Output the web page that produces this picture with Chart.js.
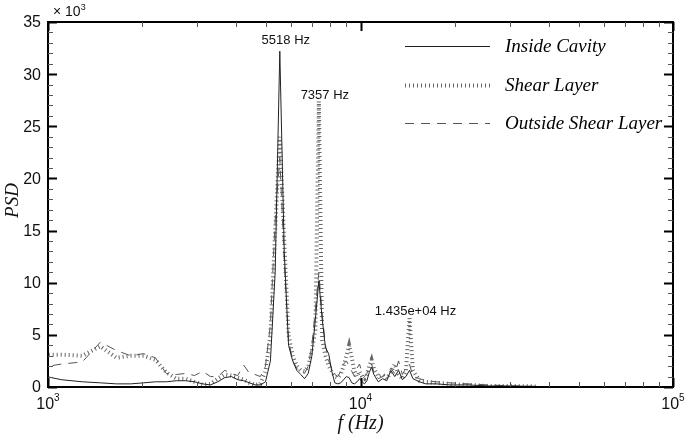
<!DOCTYPE html>
<html>
<head>
<meta charset="utf-8">
<script src="https://cdn.jsdelivr.net/npm/chart.js@4.4.1/dist/chart.umd.min.js"></script>
<style>
  html, body { margin: 0; padding: 0; background: #fff; }
</style>
</head>
<body>
<canvas id="psdChart" width="685" height="438"></canvas>
<script>
// frequencies (Hz), spectral resolution about 184 Hz
const freqs = [920, 1103, 1287, 1471, 1655, 1839, 2023, 2207, 2391, 2575,
  2759, 2942, 3126, 3310, 3494, 3678, 3862, 4046, 4230, 4414,
  4598, 4781, 4965, 5149, 5333, 5518, 5701, 5885, 6069, 6253,
  6437, 6620, 6804, 6988, 7172, 7357, 7540, 7724, 7908, 8092,
  8276, 8460, 8643, 8827, 9011, 9195, 9379, 9563, 9747, 9931,
  10115, 10298, 10482, 10666, 10850, 11034,
  11402, 11770, 12137, 12505, 12873, 13241, 13609, 13976, 14350, 14712,
  15448, 16183, 17471, 19310, 22068, 25746, 30344, 36780];

// PSD values in units of 10^3
const insideCavity = [1.2, 0.7, 0.5, 0.4, 0.3, 0.3, 0.4, 0.5, 0.5, 0.6,
  0.6, 0.5, 0.3, 0.2, 0.5, 0.9, 1.0, 0.7, 0.6, 0.4,
  0.2, 0.2, 0.5, 2.5, 11.0, 32.2, 13.0, 4.0, 2.5, 1.6,
  1.2, 0.8, 1.3, 3.0, 6.5, 10.2, 6.5, 3.8, 3.2, 1.5,
  0.4, 0.3, 0.4, 0.7, 1.0, 0.9, 0.4, 0.3, 0.5, 0.8,
  0.5, 0.3, 0.6, 1.4, 1.9, 1.2,
  0.5, 0.8, 0.6, 1.6, 1.0, 1.6, 0.7, 1.0, 1.6, 0.8,
  0.5, 0.3, 0.3, 0.2, 0.2, 0.1, 0.1, 0.05];

const shearLayer = [3.1, 3.1, 3.0, 3.9, 2.8, 3.0, 3.0, 2.6, 1.4, 0.8,
  0.8, 0.5, 0.2, 0.3, 0.8, 1.2, 1.1, 0.9, 0.7, 0.4,
  0.2, 0.3, 1.5, 5.0, 15.0, 24.0, 14.0, 5.0, 3.0, 2.0,
  1.6, 1.5, 2.0, 3.5, 5.5, 27.4, 4.5, 3.0, 2.0, 1.5,
  1.0, 0.9, 1.2, 2.0, 3.0, 4.0, 2.8, 1.5, 1.0, 1.5,
  1.0, 0.8, 1.2, 2.0, 2.6, 1.8,
  1.0, 1.2, 0.8, 1.4, 2.2, 1.2, 0.8, 1.5, 6.6, 1.6,
  0.6, 0.5, 0.4, 0.3, 0.2, 0.1, 0.1, 0.05];

const outsideShear = [1.8, 2.2, 2.4, 4.3, 3.5, 3.0, 3.2, 2.8, 1.3, 1.2,
  1.3, 1.1, 1.5, 1.0, 1.0, 1.6, 1.3, 1.1, 2.1, 1.3,
  1.2, 1.0, 2.0, 6.0, 16.0, 22.0, 12.0, 4.5, 2.5, 1.8,
  1.4, 1.3, 2.0, 4.0, 7.5, 11.0, 7.0, 4.0, 2.5, 1.8,
  1.2, 1.0, 1.5, 2.2, 2.5, 2.0, 1.5, 1.0, 1.8, 2.2,
  1.3, 1.0, 1.3, 2.0, 2.2, 1.4,
  0.8, 1.0, 1.2, 1.8, 1.3, 2.5, 1.2, 1.8, 2.2, 1.0,
  0.8, 0.6, 0.5, 0.4, 0.3, 0.2, 0.1, 0.05];

const yTicks = [0, 5, 10, 15, 20, 25, 30, 35];
const xDecades = [1000, 10000, 100000];
const xExponents = ['3', '4', '5'];

// peak annotations
const peakFreqs = [5518, 7357, 14350];
const peakLevels = [33.0, 27.7, 7.0];
const peakLabels = ['5518 Hz', '7357 Hz', '1.435e+04 Hz'];

const SANS = '"Liberation Sans", Arial, sans-serif';
const SERIF = '"Liberation Serif", "Times New Roman", serif';

function toPoints(values) {
    return freqs.map((f, i) => ({ x: f, y: values[i] }));
}

const frame = {
    id: 'frame',
    afterDraw(chart) {
        const ctx = chart.ctx;
        const a = chart.chartArea;
        const xs = chart.scales.x;
        const ys = chart.scales.y;
        ctx.save();

        // box
        ctx.strokeStyle = '#000';
        ctx.lineWidth = 2;
        ctx.strokeRect(a.left, a.top, a.right - a.left, a.bottom - a.top);

        // y ticks, inward on both sides
        for (let v = 0; v <= 35; v++) {
            const y = Math.round(ys.getPixelForValue(v)) + 0.5;
            const major = v % 5 === 0;
            const len = major ? 9 : 5;
            ctx.lineWidth = major ? 2 : 1;
            ctx.strokeStyle = major ? '#000' : '#555';
            ctx.beginPath();
            ctx.moveTo(a.left, y); ctx.lineTo(a.left + len, y);
            ctx.moveTo(a.right, y); ctx.lineTo(a.right - len, y);
            ctx.stroke();
        }

        // x ticks (log), inward top and bottom
        const xt = [];
        [1000, 10000].forEach(d => {
            for (let m = 1; m <= 9; m++) xt.push({ f: d * m, major: m === 1 });
        });
        xt.push({ f: 100000, major: true });
        xt.forEach(t => {
            const x = Math.round(xs.getPixelForValue(t.f)) + 0.5;
            const len = t.major ? 9 : 5;
            ctx.lineWidth = t.major ? 2 : 1;
            ctx.strokeStyle = t.major ? '#000' : '#555';
            ctx.beginPath();
            ctx.moveTo(x, a.bottom); ctx.lineTo(x, a.bottom - len);
            ctx.moveTo(x, a.top); ctx.lineTo(x, a.top + len);
            ctx.stroke();
        });

        // y tick labels
        ctx.fillStyle = '#111';
        ctx.font = '16px ' + SANS;
        ctx.textAlign = 'right';
        ctx.textBaseline = 'middle';
        yTicks.forEach(v => {
            ctx.fillText(String(v), a.left - 7, ys.getPixelForValue(v) + 1);
        });

        // x tick labels 10^n
        ctx.textBaseline = 'alphabetic';
        xDecades.forEach((d, i) => {
            const x = xs.getPixelForValue(d);
            ctx.font = '16px ' + SANS;
            const w1 = ctx.measureText('10').width;
            ctx.font = '10px ' + SANS;
            const w2 = ctx.measureText(xExponents[i]).width;
            const x0 = x - (w1 + w2) / 2;
            ctx.textAlign = 'left';
            ctx.font = '16px ' + SANS;
            ctx.fillText('10', x0, a.bottom + 22);
            ctx.font = '10px ' + SANS;
            ctx.fillText(xExponents[i], x0 + w1, a.bottom + 14);
        });

        // multiplier
        ctx.textAlign = 'left';
        ctx.font = '14px ' + SANS;
        ctx.fillText('\u00d7 10', a.left + 5, 16);
        const wm = ctx.measureText('\u00d7 10').width;
        ctx.font = '9px ' + SANS;
        ctx.fillText('3', a.left + 5 + wm, 10);

        // axis titles
        ctx.font = 'italic 20px ' + SERIF;
        ctx.textAlign = 'center';
        ctx.fillText('f (Hz)', (a.left + a.right) / 2, 429);
        ctx.save();
        ctx.translate(13, (a.top + a.bottom) / 2 - 4);
        ctx.rotate(-Math.PI / 2);
        ctx.font = 'italic 19px ' + SERIF;
        ctx.textBaseline = 'middle';
        ctx.fillText('PSD', 0, 0);
        ctx.restore();

        // peak labels
        ctx.font = '13px ' + SANS;
        ctx.textAlign = 'center';
        ctx.textBaseline = 'alphabetic';
        peakFreqs.forEach((f, i) => {
            ctx.fillText(peakLabels[i], xs.getPixelForValue(f) + 6, ys.getPixelForValue(peakLevels[i]) + 1);
        });

        // legend
        const rows = [46, 85, 123];
        chart.data.datasets.forEach((ds, i) => {
            const y = rows[i] + 0.5;
            ctx.save();
            ctx.strokeStyle = ds.borderColor;
            ctx.lineWidth = ds.borderWidth;
            ctx.setLineDash(ds.borderDash || []);
            ctx.beginPath();
            ctx.moveTo(405, y); ctx.lineTo(490, y);
            ctx.stroke();
            ctx.restore();
            ctx.fillStyle = '#000';
            ctx.font = 'italic 19px ' + SERIF;
            ctx.textAlign = 'left';
            ctx.textBaseline = 'middle';
            ctx.fillText(ds.label, 505, rows[i] + 1);
        });

        ctx.restore();
    }
};

new Chart(document.getElementById('psdChart').getContext('2d'), {
    type: 'line',
    data: {
        datasets: [{
            label: 'Inside Cavity',
            data: toPoints(insideCavity),
            borderColor: '#222',
            borderWidth: 1,
            pointRadius: 0
        }, {
            label: 'Shear Layer',
            data: toPoints(shearLayer),
            borderColor: '#666',
            borderWidth: 4,
            borderDash: [1, 3],
            pointRadius: 0
        }, {
            label: 'Outside Shear Layer',
            data: toPoints(outsideShear),
            borderColor: '#555',
            borderWidth: 1,
            borderDash: [9, 7],
            pointRadius: 0
        }]
    },
    options: {
        responsive: false,
        animation: false,
        devicePixelRatio: 1,
        layout: { padding: { left: 48, top: 22, right: 12, bottom: 51 } },
        plugins: { legend: { display: false }, tooltip: { enabled: false } },
        elements: { line: { tension: 0 } },
        datasets: { line: { clip: 0 } },
        scales: {
            x: { type: 'logarithmic', min: 1000, max: 100000, display: false },
            y: { type: 'linear', min: 0, max: 35, display: false }
        }
    },
    plugins: [frame]
});
</script>
</body>
</html>
